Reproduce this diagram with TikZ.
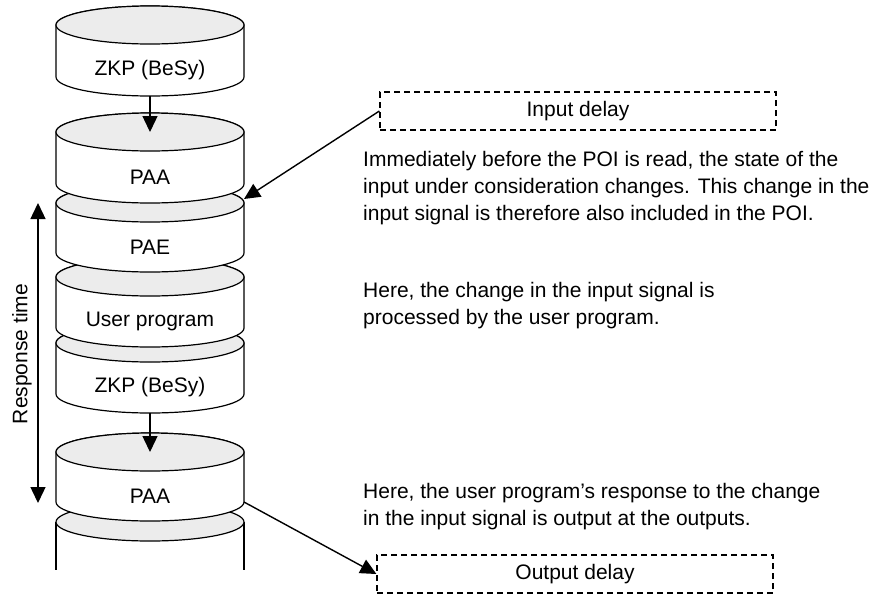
\documentclass[tikz,border=0pt]{standalone}
\usepackage{fontspec}
\setmainfont{Liberation Sans}
\usepackage{tikz}
\usetikzlibrary{arrows.meta,positioning,calc}

\begin{document}
\begin{tikzpicture}[
    x=1pt,y=1pt,
    font=\fontsize{21}{27}\selectfont,
    flow/.style={-{Triangle[length=16pt,width=15pt]},line width=1.4pt,black},
    span/.style={{Triangle[length=16pt,width=15pt]}-{Triangle[length=16pt,width=15pt]},line width=1.4pt,black},
    drum/.style={line width=1.2pt,draw=black,fill=white},
    lid/.style={line width=1.2pt,draw=black,fill=gray!15},
    stage/.style={inner sep=0pt,text=black},
    delaybox/.style={draw,dash pattern=on 6pt off 4pt,line width=1.2pt,minimum width=396pt,minimum height=38pt,inner sep=0pt},
    note/.style={align=left,anchor=west,inner sep=0pt,text=black},
]
    \path[use as bounding box] (0,0) rectangle (882,-595);

    % open drum at the bottom
    \fill[white] (56,-522) rectangle (244,-570);
    \draw[line width=1.2pt] (56,-522) -- (56,-570) (244,-522) -- (244,-570);
    \filldraw[lid] (150,-522) ellipse [x radius=94,y radius=19];

    % stack, drawn from the bottom up
    \foreach \nm/\ty/\by/\lbl in {paab/452/502/PAA, zkpb/343/394/{ZKP (BeSy)}, prog/277/328/User program, pae/203/253/PAE, paaa/132/184/PAA, zkpa/25/77/{ZKP (BeSy)}}{
        \filldraw[drum] (56,-\ty) -- (56,-\by) arc[start angle=180,end angle=360,x radius=94,y radius=19]
            -- (244,-\ty) arc[start angle=0,end angle=180,x radius=94,y radius=19] -- cycle;
        \filldraw[lid] (150,-\ty) ellipse [x radius=94,y radius=19];
        \node[stage] (\nm) at (150,{-(\ty+\by)/2-19}) {\lbl};
        \coordinate (\nm-top) at (150,-\ty);
        \coordinate (\nm-bot) at (150,{-\by-19});
        \coordinate (\nm-se) at (244,-\by);
        \coordinate (\nm-ne) at (244,{-\ty+4});
    }

    \draw[flow] (zkpa-bot) -- (paaa-top);
    \draw[flow] (zkpb-bot) -- (paab-top);

    % delays
    \node[delaybox] (indelay) at (578,-111) {Input delay};
    \node[delaybox] (outdelay) at (575,-574) {Output delay};
    \draw[flow] (indelay.west) -- (pae-ne);
    \draw[flow] (paab-se) -- (outdelay.west);

    % response time
    \coordinate (resp-top) at (38,-203);
    \coordinate (resp-bot) at (38,-503);
    \draw[span] (resp-top) -- (resp-bot);
    \node[stage,rotate=90] (resp) at (22,-354) {Response time};

    \node[note] (readnote) at (363,-188)
        {Immediately before the POI is read, the state of the\\
         input under consideration changes. This change in the\\
         input signal is therefore also included in the POI.};
    \node[note] (prognote) at (363,-306)
        {Here, the change in the input signal is\\
         processed by the user program.};
    \node[note] (outnote) at (363,-507)
        {Here, the user program's response to the change\\
         in the input signal is output at the outputs.};
\end{tikzpicture}
\end{document}
